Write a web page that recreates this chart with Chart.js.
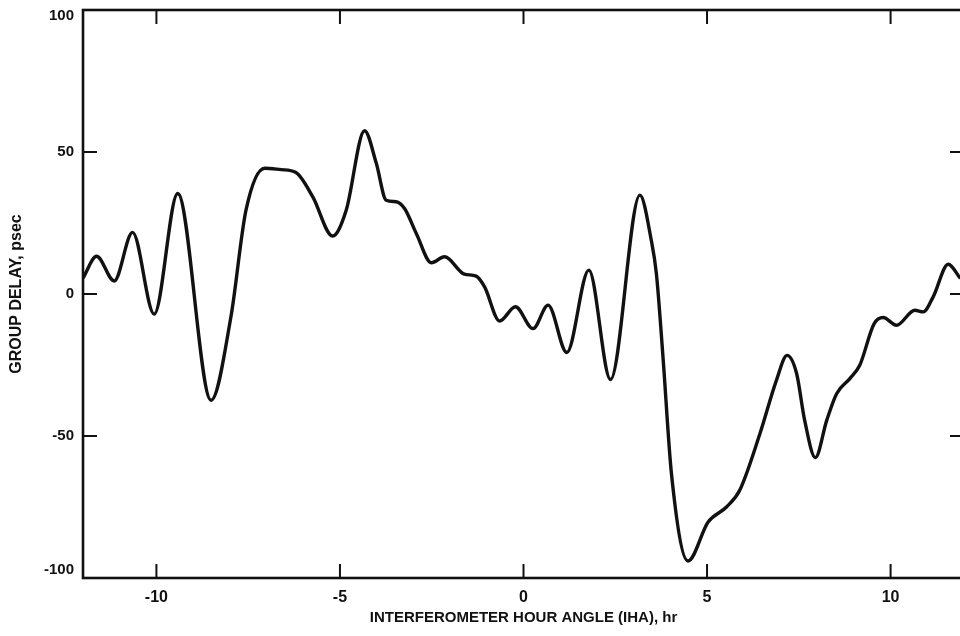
<!DOCTYPE html>
<html>
<head>
<meta charset="utf-8">
<script src="https://cdn.jsdelivr.net/npm/chart.js@4.4.1/dist/chart.umd.min.js"></script>
<style>
  html, body { margin: 0; padding: 0; background: #fff; overflow: hidden; }
  #wrap { width: 960px; height: 636px; overflow: hidden; }
  canvas { display: block; }
</style>
</head>
<body>
<div id="wrap"><canvas id="c" width="968" height="636"></canvas></div>
<script>
// Interferometer hour angle (hr) and measured group delay (psec)
const hourAngle = [
  -12.00, -11.63, -11.15, -10.65, -10.06, -9.42, -8.51, -7.97, -7.56, -7.05,
  -6.60, -6.20, -5.74, -5.20, -4.83, -4.33, -4.01, -3.74, -3.47, -3.24,
  -2.92, -2.51, -2.15, -1.61, -1.29, -1.06, -0.65, -0.22, 0.26, 0.67,
  1.18, 1.78, 2.37, 3.17, 3.48, 3.62, 3.80, 4.03, 4.48, 5.03,
  5.53, 5.89, 6.44, 6.89, 7.18, 7.44, 7.66, 7.95, 8.26, 8.53,
  8.89, 9.16, 9.55, 9.80, 10.16, 10.66, 10.89, 11.16, 11.57, 11.90
];
const groupDelay = [
  5.6, 13.3, 4.6, 21.7, -7.1, 35.4, -37.4, -8.0, 29.5, 44.3,
  43.8, 42.8, 34.2, 20.4, 29.5, 57.5, 46.0, 33.0, 32.5, 30.1,
  21.3, 11.0, 13.1, 7.0, 6.3, 2.5, -9.5, -4.5, -12.2, -3.9,
  -20.6, 8.4, -30.1, 34.8, 19.0, 7.2, -22.2, -63.2, -94.0, -80.3,
  -75.0, -69.1, -49.2, -30.4, -21.6, -28.0, -44.5, -57.6, -44.5, -35.1,
  -29.8, -25.1, -10.5, -8.3, -11.0, -5.7, -6.3, -1.0, 10.5, 5.5
];

const xTicks = [-10, -5, 0, 5, 10];
const yTicks = [-100, -50, 0, 50, 100];
const xTitle = 'INTERFEROMETER HOUR ANGLE (IHA), hr';
const yTitle = 'GROUP DELAY, psec';

const FONT = "'Liberation Sans', Arial, Helvetica, sans-serif";
const INK = '#111';

// Boxed frame with inward-pointing tick marks on all four sides
const frameTicks = {
  id: 'frameTicks',
  afterDraw(chart) {
    const { ctx, chartArea: a, scales } = chart;
    const len = 14;
    ctx.save();
    ctx.strokeStyle = INK;
    ctx.lineWidth = 2.6;
    ctx.strokeRect(a.left, a.top, a.right - a.left, a.bottom - a.top);
    ctx.lineWidth = 2;
    ctx.beginPath();
    scales.x.ticks.forEach(t => {
      const px = scales.x.getPixelForValue(t.value);
      ctx.moveTo(px, a.bottom); ctx.lineTo(px, a.bottom - len);
      ctx.moveTo(px, a.top); ctx.lineTo(px, a.top + len);
    });
    scales.y.ticks.forEach(t => {
      const py = scales.y.getPixelForValue(t.value);
      ctx.moveTo(a.left, py); ctx.lineTo(a.left + len, py);
      ctx.moveTo(a.right, py); ctx.lineTo(a.right - len, py);
    });
    ctx.stroke();
    ctx.restore();
  }
};

// End labels of the value axis sit just inside the frame corners
const yMax = yTicks[yTicks.length - 1];
const yMin = yTicks[0];

new Chart(document.getElementById('c'), {
  type: 'line',
  data: {
    datasets: [{
      data: hourAngle.map((h, i) => ({ x: h, y: groupDelay[i] })),
      borderColor: INK,
      borderWidth: 3.4,
      pointRadius: 0,
      fill: false,
      cubicInterpolationMode: 'monotone'
    }]
  },
  options: {
    responsive: false,
    animation: false,
    layout: { padding: { top: 10, right: 4, left: 0, bottom: 0 } },
    plugins: { legend: { display: false }, tooltip: { enabled: false } },
    scales: {
      x: {
        type: 'linear',
        min: -12,
        max: 12,
        afterBuildTicks: s => { s.ticks = xTicks.map(v => ({ value: v })); },
        afterFit: s => { s.height = 58; s.paddingLeft = 0; s.paddingRight = 0; },
        grid: { display: false, drawTicks: false },
        border: { display: false },
        ticks: {
          padding: 10,
          color: INK,
          font: { family: FONT, size: 16, weight: 'bold' },
          callback: v => String(v)
        },
        title: {
          display: true,
          text: xTitle,
          color: INK,
          font: { family: FONT, size: 15, weight: 'bold' },
          padding: { top: 0, bottom: 9 }
        }
      },
      y: {
        min: yMin,
        max: yMax,
        afterBuildTicks: s => { s.ticks = yTicks.map(v => ({ value: v })); },
        afterFit: s => { s.width = 83; s.paddingTop = 0; s.paddingBottom = 0; },
        grid: { display: false, drawTicks: false },
        border: { display: false },
        ticks: {
          padding: 9,
          color: INK,
          font: ctx => {
            const v = ctx.tick ? ctx.tick.value : 0;
            const lh = v === yMax ? '12px' : (v === yMin ? '16px' : 1.2);
            return { family: FONT, size: 15, weight: 'bold', lineHeight: lh };
          },
          callback: v => (v === yMax ? ['', String(v)] : (v === yMin ? [String(v), ''] : String(v)))
        },
        title: {
          display: true,
          text: yTitle,
          color: INK,
          font: { family: FONT, size: 16, weight: 'bold' },
          padding: { top: 7, bottom: 0 }
        }
      }
    }
  },
  plugins: [frameTicks]
});
</script>
</body>
</html>
